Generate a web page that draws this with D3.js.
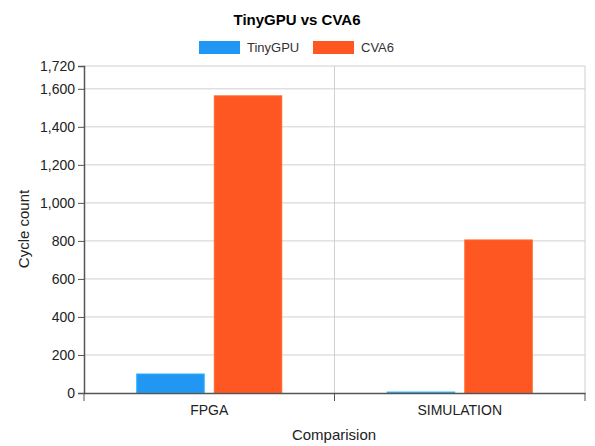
<!DOCTYPE html>
<html><head><meta charset="utf-8">
<script src="https://cdn.jsdelivr.net/npm/d3@7"></script>
<style>body{margin:0;background:#fff}text{font-family:"Liberation Sans",Arial,sans-serif}</style>
</head><body>
<svg id="c" width="595" height="446"></svg>
<script>
const categories = ["FPGA", "SIMULATION"];
const seriesNames = ["TinyGPU", "CVA6"];
const tinyGPU = [100, 5];
const cva6 = [1563, 805];
const yTicks = [0, 200, 400, 600, 800, 1000, 1200, 1400, 1600, 1720];
const colors = ["#2196F3", "#FF5722"];

const svg = d3.select("#c");
const L = 84, R = 585, T = 66, B = 393;
const x = d3.scaleBand().domain(categories).range([L, R]);
const y = d3.scaleLinear().domain([0, 1720]).range([B, T]);
const xs = d3.scaleBand().domain(seriesNames).range([0, x.bandwidth()]).paddingInner(0.13).paddingOuter(0.68);

// grid
svg.append("g").selectAll("line").data(yTicks.slice(1)).join("line")
  .attr("x1", L).attr("x2", R).attr("y1", d => y(d)).attr("y2", d => y(d))
  .attr("stroke", "#d0d0d0");
svg.append("g").selectAll("line").data([categories[1]]).join("line")
  .attr("x1", d => x(d)).attr("x2", d => x(d)).attr("y1", T).attr("y2", B).attr("stroke", "#d0d0d0");
svg.append("line").attr("x1", R).attr("x2", R).attr("y1", T).attr("y2", B).attr("stroke", "#d0d0d0");

// bars
const data = [tinyGPU, cva6];
seriesNames.forEach((s, i) => {
  svg.append("g").selectAll("rect").data(categories).join("rect")
    .attr("x", c => x(c) + xs(s)).attr("width", xs.bandwidth())
    .attr("y", (c, j) => y(data[i][j])).attr("height", (c, j) => B - y(data[i][j]))
    .attr("fill", colors[i]).attr("stroke", d3.color(colors[i]).brighter(0.5)).attr("stroke-width", 1);
});

// axes
const ya = svg.append("g").attr("transform", `translate(${L},0)`)
  .call(d3.axisLeft(y).tickValues(yTicks).tickSize(6).tickPadding(3).tickFormat(d3.format(",")));
const xa = svg.append("g").attr("transform", `translate(0,${B})`)
  .call(d3.axisBottom(x).tickSize(0).tickPadding(12));
ya.select(".domain").attr("stroke", "#555").attr("stroke-width", 1.5);
xa.select(".domain").attr("stroke", "#555").attr("stroke-width", 1.5);
ya.selectAll(".tick line").attr("stroke", "#555");
ya.selectAll("text").attr("font-size", 14).attr("fill", "#222");
xa.selectAll("text").attr("font-size", 14).attr("fill", "#222");
svg.append("g").selectAll("line").data([L, x(categories[1]), R]).join("line")
  .attr("x1", d => d).attr("x2", d => d).attr("y1", B).attr("y2", B + 8).attr("stroke", "#555");

// labels
svg.append("text").attr("x", 334).attr("y", 440).attr("text-anchor", "middle").attr("font-size", 15).attr("fill", "#222").text("Comparision");
svg.append("text").attr("transform", "translate(29,229) rotate(-90)").attr("text-anchor", "middle").attr("font-size", 15).attr("fill", "#222").text("Cycle count");
svg.append("text").attr("x", 297).attr("y", 25).attr("text-anchor", "middle").attr("font-size", 15).attr("font-weight", "bold").text("TinyGPU vs CVA6");

// legend
const lx = [199, 313];
seriesNames.forEach((s, i) => {
  svg.append("rect").attr("x", lx[i]).attr("y", 41).attr("width", 41).attr("height", 13).attr("fill", colors[i]);
  svg.append("text").attr("x", lx[i] + 48).attr("y", 52).attr("font-size", 13).attr("fill", "#333").text(s);
});
</script>
</body></html>
